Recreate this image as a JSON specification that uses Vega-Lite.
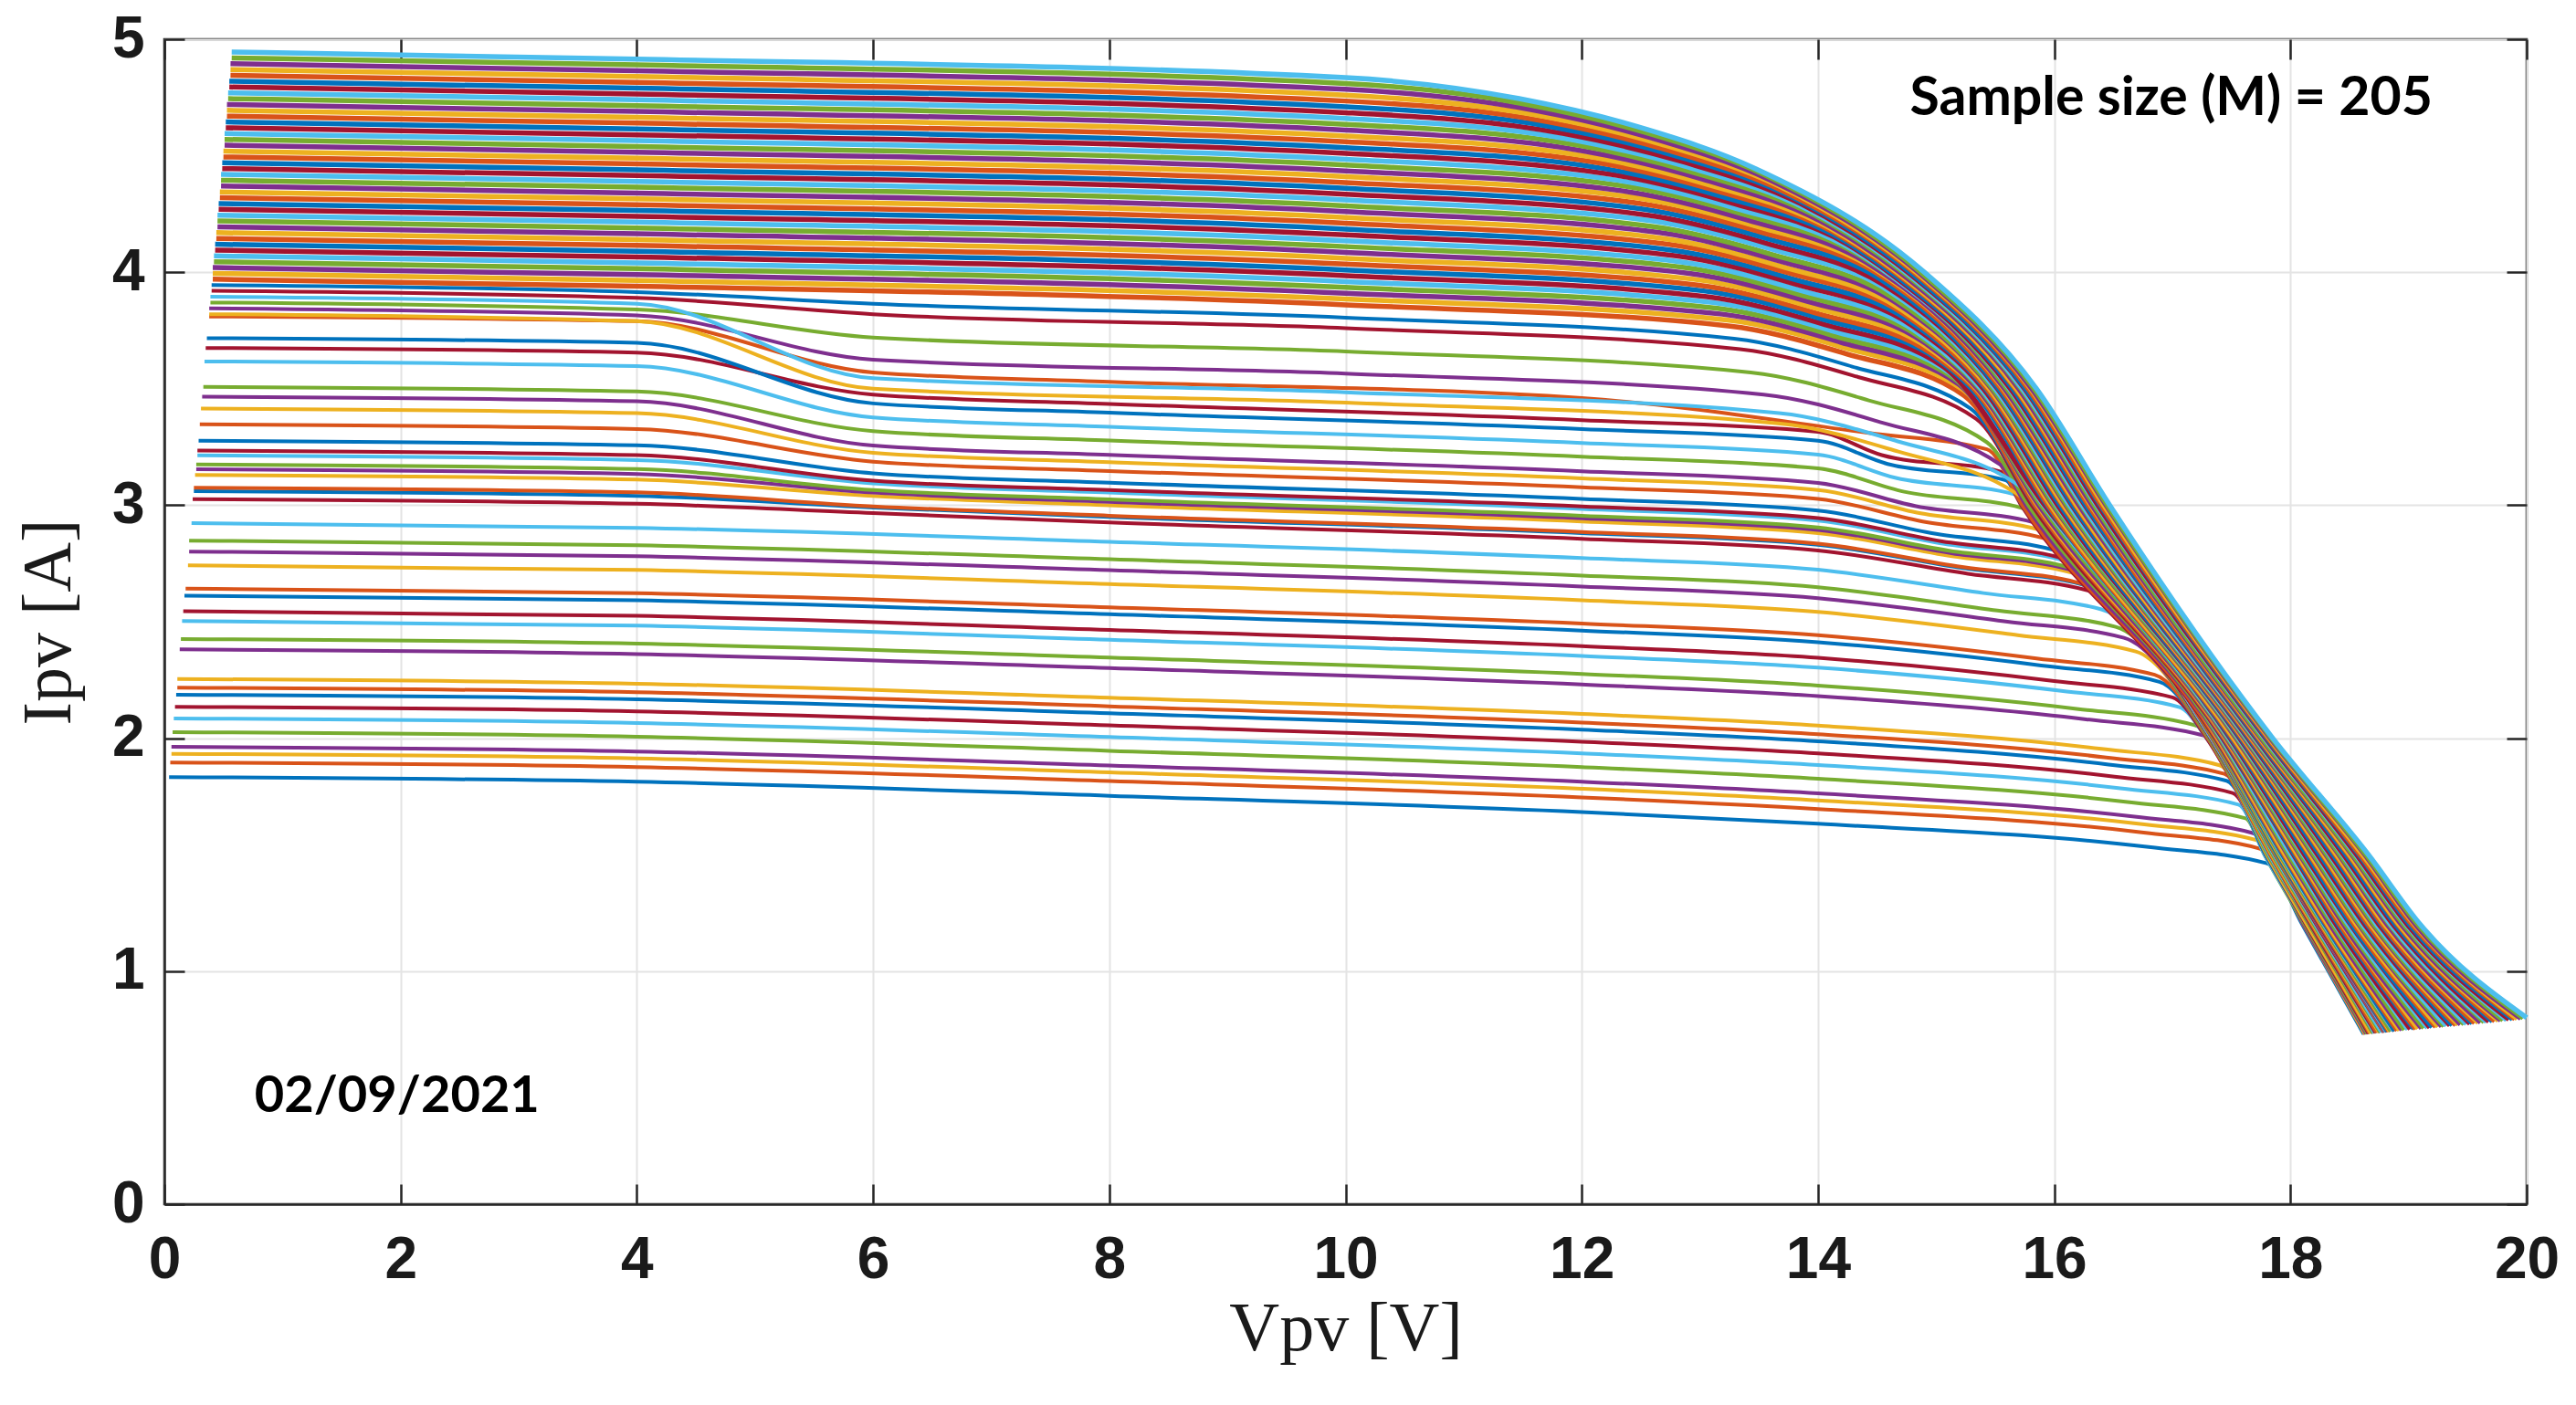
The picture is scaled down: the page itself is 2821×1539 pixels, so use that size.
{
"$schema":"https://vega.github.io/schema/vega-lite/v6.json",
"width":2587,"height":1276,
"autosize":{"type":"none"},
"padding":{"left":180,"top":43,"right":54,"bottom":220},
"background":"white",
"config":{"view":{"stroke":"#262626","strokeWidth":2.5}},
"resolve":{"axis":{"x":"independent","y":"independent"}},
"data":{"values":[
{"c":"c01","v":0.04,"i":1.833},{"c":"c01","v":4,"i":1.813},{"c":"c01","v":8,"i":1.753},{"c":"c01","v":12,"i":1.683},{"c":"c01","v":14,"i":1.633},{"c":"c01","v":16.8,"i":1.533},{"c":"c01","v":17.8,"i":1.463},{"c":"c01","v":18.1,"i":1.2},{"c":"c01","v":18.62,"i":0.73},
{"c":"c02","v":0.05,"i":1.896},{"c":"c02","v":4,"i":1.876},{"c":"c02","v":8,"i":1.816},{"c":"c02","v":12,"i":1.746},{"c":"c02","v":14,"i":1.696},{"c":"c02","v":16.74,"i":1.596},{"c":"c02","v":17.74,"i":1.526},{"c":"c02","v":18.11,"i":1.2},{"c":"c02","v":18.63,"i":0.73},
{"c":"c03","v":0.06,"i":1.933},{"c":"c03","v":4,"i":1.913},{"c":"c03","v":8,"i":1.853},{"c":"c03","v":12,"i":1.783},{"c":"c03","v":14,"i":1.733},{"c":"c03","v":16.71,"i":1.633},{"c":"c03","v":17.71,"i":1.563},{"c":"c03","v":18.11,"i":1.2},{"c":"c03","v":18.63,"i":0.731},
{"c":"c04","v":0.06,"i":1.963},{"c":"c04","v":4,"i":1.943},{"c":"c04","v":8,"i":1.883},{"c":"c04","v":12,"i":1.813},{"c":"c04","v":14,"i":1.763},{"c":"c04","v":16.68,"i":1.663},{"c":"c04","v":17.68,"i":1.593},{"c":"c04","v":18.11,"i":1.2},{"c":"c04","v":18.64,"i":0.731},
{"c":"c05","v":0.07,"i":2.026},{"c":"c05","v":4,"i":2.006},{"c":"c05","v":8,"i":1.946},{"c":"c05","v":12,"i":1.876},{"c":"c05","v":14,"i":1.826},{"c":"c05","v":16.62,"i":1.726},{"c":"c05","v":17.62,"i":1.656},{"c":"c05","v":17.78,"i":1.5},{"c":"c05","v":18.12,"i":1.2},{"c":"c05","v":18.65,"i":0.731},
{"c":"c06","v":0.08,"i":2.085},{"c":"c06","v":4,"i":2.065},{"c":"c06","v":8,"i":2.005},{"c":"c06","v":12,"i":1.935},{"c":"c06","v":14,"i":1.885},{"c":"c06","v":16.56,"i":1.785},{"c":"c06","v":17.56,"i":1.715},{"c":"c06","v":17.78,"i":1.5},{"c":"c06","v":18.13,"i":1.2},{"c":"c06","v":18.66,"i":0.732},
{"c":"c07","v":0.09,"i":2.135},{"c":"c07","v":4,"i":2.115},{"c":"c07","v":8,"i":2.055},{"c":"c07","v":12,"i":1.985},{"c":"c07","v":14,"i":1.935},{"c":"c07","v":16.51,"i":1.835},{"c":"c07","v":17.51,"i":1.765},{"c":"c07","v":17.79,"i":1.5},{"c":"c07","v":18.13,"i":1.2},{"c":"c07","v":18.66,"i":0.732},
{"c":"c08","v":0.1,"i":2.187},{"c":"c08","v":4,"i":2.167},{"c":"c08","v":8,"i":2.107},{"c":"c08","v":12,"i":2.037},{"c":"c08","v":14,"i":1.987},{"c":"c08","v":16.46,"i":1.887},{"c":"c08","v":17.46,"i":1.817},{"c":"c08","v":17.79,"i":1.5},{"c":"c08","v":18.14,"i":1.2},{"c":"c08","v":18.67,"i":0.733},
{"c":"c09","v":0.11,"i":2.217},{"c":"c09","v":4,"i":2.197},{"c":"c09","v":8,"i":2.137},{"c":"c09","v":12,"i":2.067},{"c":"c09","v":14,"i":2.017},{"c":"c09","v":16.44,"i":1.917},{"c":"c09","v":17.44,"i":1.847},{"c":"c09","v":17.8,"i":1.5},{"c":"c09","v":18.14,"i":1.2},{"c":"c09","v":18.67,"i":0.733},
{"c":"c10","v":0.11,"i":2.254},{"c":"c10","v":4,"i":2.234},{"c":"c10","v":8,"i":2.174},{"c":"c10","v":12,"i":2.104},{"c":"c10","v":14,"i":2.054},{"c":"c10","v":16.4,"i":1.954},{"c":"c10","v":17.4,"i":1.884},{"c":"c10","v":17.8,"i":1.5},{"c":"c10","v":18.14,"i":1.2},{"c":"c10","v":18.68,"i":0.733},
{"c":"c11","v":0.13,"i":2.381},{"c":"c11","v":4,"i":2.361},{"c":"c11","v":8,"i":2.301},{"c":"c11","v":12,"i":2.231},{"c":"c11","v":14,"i":2.181},{"c":"c11","v":16.27,"i":2.081},{"c":"c11","v":17.27,"i":2.011},{"c":"c11","v":17.81,"i":1.5},{"c":"c11","v":18.16,"i":1.2},{"c":"c11","v":18.7,"i":0.734},
{"c":"c12","v":0.14,"i":2.426},{"c":"c12","v":4,"i":2.406},{"c":"c12","v":8,"i":2.346},{"c":"c12","v":12,"i":2.276},{"c":"c12","v":14,"i":2.226},{"c":"c12","v":16.19,"i":2.126},{"c":"c12","v":17.19,"i":2.056},{"c":"c12","v":17.81,"i":1.5},{"c":"c12","v":18.16,"i":1.2},{"c":"c12","v":18.7,"i":0.734},
{"c":"c13","v":0.15,"i":2.503},{"c":"c13","v":4,"i":2.483},{"c":"c13","v":8,"i":2.423},{"c":"c13","v":12,"i":2.353},{"c":"c13","v":14,"i":2.303},{"c":"c13","v":16.06,"i":2.203},{"c":"c13","v":17.06,"i":2.133},{"c":"c13","v":17.29,"i":2.0},{"c":"c13","v":17.82,"i":1.5},{"c":"c13","v":18.17,"i":1.2},{"c":"c13","v":18.71,"i":0.735},
{"c":"c14","v":0.16,"i":2.545},{"c":"c14","v":4,"i":2.525},{"c":"c14","v":8,"i":2.465},{"c":"c14","v":12,"i":2.395},{"c":"c14","v":14,"i":2.345},{"c":"c14","v":16.0,"i":2.245},{"c":"c14","v":17.0,"i":2.175},{"c":"c14","v":17.29,"i":2.0},{"c":"c14","v":17.83,"i":1.5},{"c":"c14","v":18.17,"i":1.2},{"c":"c14","v":18.72,"i":0.735},
{"c":"c15","v":0.17,"i":2.612},{"c":"c15","v":4,"i":2.592},{"c":"c15","v":8,"i":2.532},{"c":"c15","v":12,"i":2.462},{"c":"c15","v":14,"i":2.412},{"c":"c15","v":15.89,"i":2.312},{"c":"c15","v":16.89,"i":2.242},{"c":"c15","v":17.3,"i":2.0},{"c":"c15","v":17.83,"i":1.5},{"c":"c15","v":18.18,"i":1.2},{"c":"c15","v":18.73,"i":0.736},
{"c":"c16","v":0.18,"i":2.642},{"c":"c16","v":4,"i":2.622},{"c":"c16","v":8,"i":2.562},{"c":"c16","v":12,"i":2.492},{"c":"c16","v":14,"i":2.442},{"c":"c16","v":15.85,"i":2.342},{"c":"c16","v":16.85,"i":2.272},{"c":"c16","v":17.3,"i":2.0},{"c":"c16","v":17.83,"i":1.5},{"c":"c16","v":18.18,"i":1.2},{"c":"c16","v":18.73,"i":0.736},
{"c":"c17","v":0.2,"i":2.742},{"c":"c17","v":4,"i":2.722},{"c":"c17","v":8,"i":2.662},{"c":"c17","v":12,"i":2.592},{"c":"c17","v":14,"i":2.542},{"c":"c17","v":15.69,"i":2.442},{"c":"c17","v":16.69,"i":2.372},{"c":"c17","v":17.31,"i":2.0},{"c":"c17","v":17.84,"i":1.5},{"c":"c17","v":18.19,"i":1.2},{"c":"c17","v":18.75,"i":0.737},
{"c":"c18","v":0.21,"i":2.801},{"c":"c18","v":4,"i":2.781},{"c":"c18","v":8,"i":2.721},{"c":"c18","v":12,"i":2.651},{"c":"c18","v":14,"i":2.601},{"c":"c18","v":15.59,"i":2.501},{"c":"c18","v":16.59,"i":2.431},{"c":"c18","v":17.31,"i":2.0},{"c":"c18","v":17.85,"i":1.5},{"c":"c18","v":18.2,"i":1.2},{"c":"c18","v":18.76,"i":0.737},
{"c":"c19","v":0.21,"i":2.848},{"c":"c19","v":4,"i":2.828},{"c":"c19","v":8,"i":2.768},{"c":"c19","v":12,"i":2.698},{"c":"c19","v":14,"i":2.648},{"c":"c19","v":15.52,"i":2.548},{"c":"c19","v":16.52,"i":2.478},{"c":"c19","v":17.31,"i":2.0},{"c":"c19","v":17.85,"i":1.5},{"c":"c19","v":18.2,"i":1.2},{"c":"c19","v":18.76,"i":0.737},
{"c":"c20","v":0.23,"i":2.923},{"c":"c20","v":4,"i":2.903},{"c":"c20","v":8,"i":2.843},{"c":"c20","v":12,"i":2.773},{"c":"c20","v":14,"i":2.723},{"c":"c20","v":15.4,"i":2.623},{"c":"c20","v":16.4,"i":2.553},{"c":"c20","v":17.32,"i":2.0},{"c":"c20","v":17.86,"i":1.5},{"c":"c20","v":18.21,"i":1.2},{"c":"c20","v":18.77,"i":0.738},
{"c":"c21","v":0.24,"i":3.026},{"c":"c21","v":4,"i":3.006},{"c":"c21","v":6,"i":2.966},{"c":"c21","v":8,"i":2.926},{"c":"c21","v":12,"i":2.856},{"c":"c21","v":14,"i":2.806},{"c":"c21","v":15.27,"i":2.706},{"c":"c21","v":16.27,"i":2.636},{"c":"c21","v":17.32,"i":2.0},{"c":"c21","v":17.87,"i":1.5},{"c":"c21","v":18.22,"i":1.2},{"c":"c21","v":18.79,"i":0.738},
{"c":"c22","v":0.25,"i":3.06},{"c":"c22","v":4,"i":3.04},{"c":"c22","v":6,"i":2.99},{"c":"c22","v":8,"i":2.95},{"c":"c22","v":12,"i":2.88},{"c":"c22","v":14,"i":2.83},{"c":"c22","v":15.23,"i":2.73},{"c":"c22","v":16.23,"i":2.66},{"c":"c22","v":17.33,"i":2.0},{"c":"c22","v":17.87,"i":1.5},{"c":"c22","v":18.23,"i":1.2},{"c":"c22","v":18.79,"i":0.739},
{"c":"c23","v":0.25,"i":3.075},{"c":"c23","v":4,"i":3.055},{"c":"c23","v":6,"i":2.995},{"c":"c23","v":8,"i":2.955},{"c":"c23","v":12,"i":2.885},{"c":"c23","v":14,"i":2.835},{"c":"c23","v":15.22,"i":2.735},{"c":"c23","v":16.22,"i":2.665},{"c":"c23","v":17.33,"i":2.0},{"c":"c23","v":17.87,"i":1.5},{"c":"c23","v":18.23,"i":1.2},{"c":"c23","v":18.79,"i":0.739},
{"c":"c24","v":0.26,"i":3.13},{"c":"c24","v":4,"i":3.11},{"c":"c24","v":6,"i":3.04},{"c":"c24","v":8,"i":3.0},{"c":"c24","v":12,"i":2.93},{"c":"c24","v":14,"i":2.88},{"c":"c24","v":15.15,"i":2.78},{"c":"c24","v":16.15,"i":2.71},{"c":"c24","v":17.33,"i":2.0},{"c":"c24","v":17.88,"i":1.5},{"c":"c24","v":18.23,"i":1.2},{"c":"c24","v":18.8,"i":0.739},
{"c":"c25","v":0.27,"i":3.154},{"c":"c25","v":4,"i":3.134},{"c":"c25","v":6,"i":3.054},{"c":"c25","v":8,"i":3.014},{"c":"c25","v":12,"i":2.944},{"c":"c25","v":14,"i":2.894},{"c":"c25","v":15.13,"i":2.794},{"c":"c25","v":16.13,"i":2.724},{"c":"c25","v":17.33,"i":2.0},{"c":"c25","v":17.88,"i":1.5},{"c":"c25","v":18.23,"i":1.2},{"c":"c25","v":18.8,"i":0.739},
{"c":"c26","v":0.27,"i":3.175},{"c":"c26","v":4,"i":3.155},{"c":"c26","v":6,"i":3.065},{"c":"c26","v":8,"i":3.025},{"c":"c26","v":12,"i":2.955},{"c":"c26","v":14,"i":2.905},{"c":"c26","v":15.11,"i":2.805},{"c":"c26","v":16.11,"i":2.735},{"c":"c26","v":17.33,"i":2.0},{"c":"c26","v":17.88,"i":1.5},{"c":"c26","v":18.24,"i":1.2},{"c":"c26","v":18.81,"i":0.74},
{"c":"c27","v":0.28,"i":3.214},{"c":"c27","v":4,"i":3.194},{"c":"c27","v":6,"i":3.094},{"c":"c27","v":8,"i":3.054},{"c":"c27","v":12,"i":2.984},{"c":"c27","v":14,"i":2.934},{"c":"c27","v":15.07,"i":2.834},{"c":"c27","v":16.07,"i":2.764},{"c":"c27","v":17.33,"i":2.0},{"c":"c27","v":17.89,"i":1.5},{"c":"c27","v":18.24,"i":1.2},{"c":"c27","v":18.81,"i":0.74},
{"c":"c28","v":0.28,"i":3.235},{"c":"c28","v":4,"i":3.215},{"c":"c28","v":6,"i":3.105},{"c":"c28","v":8,"i":3.065},{"c":"c28","v":12,"i":2.995},{"c":"c28","v":14,"i":2.945},{"c":"c28","v":15.05,"i":2.845},{"c":"c28","v":16.05,"i":2.775},{"c":"c28","v":17.34,"i":2.0},{"c":"c28","v":17.89,"i":1.5},{"c":"c28","v":18.24,"i":1.2},{"c":"c28","v":18.82,"i":0.74},
{"c":"c29","v":0.29,"i":3.277},{"c":"c29","v":4,"i":3.257},{"c":"c29","v":6,"i":3.137},{"c":"c29","v":8,"i":3.097},{"c":"c29","v":12,"i":3.027},{"c":"c29","v":14,"i":2.977},{"c":"c29","v":15.0,"i":2.877},{"c":"c29","v":16.0,"i":2.807},{"c":"c29","v":17.34,"i":2.0},{"c":"c29","v":17.89,"i":1.5},{"c":"c29","v":18.25,"i":1.2},{"c":"c29","v":18.82,"i":0.74},
{"c":"c30","v":0.3,"i":3.347},{"c":"c30","v":4,"i":3.327},{"c":"c30","v":6,"i":3.187},{"c":"c30","v":8,"i":3.147},{"c":"c30","v":12,"i":3.077},{"c":"c30","v":14,"i":3.027},{"c":"c30","v":14.92,"i":2.927},{"c":"c30","v":15.92,"i":2.857},{"c":"c30","v":17.34,"i":2.0},{"c":"c30","v":17.9,"i":1.5},{"c":"c30","v":18.25,"i":1.2},{"c":"c30","v":18.83,"i":0.741},
{"c":"c31","v":0.31,"i":3.415},{"c":"c31","v":4,"i":3.395},{"c":"c31","v":6,"i":3.225},{"c":"c31","v":8,"i":3.185},{"c":"c31","v":12,"i":3.115},{"c":"c31","v":14,"i":3.065},{"c":"c31","v":14.87,"i":2.965},{"c":"c31","v":15.87,"i":2.895},{"c":"c31","v":17.35,"i":2.0},{"c":"c31","v":17.9,"i":1.5},{"c":"c31","v":18.26,"i":1.2},{"c":"c31","v":18.84,"i":0.741},
{"c":"c32","v":0.32,"i":3.466},{"c":"c32","v":4,"i":3.446},{"c":"c32","v":6,"i":3.256},{"c":"c32","v":8,"i":3.216},{"c":"c32","v":12,"i":3.146},{"c":"c32","v":14,"i":3.096},{"c":"c32","v":14.83,"i":2.996},{"c":"c32","v":15.83,"i":2.926},{"c":"c32","v":17.35,"i":2.0},{"c":"c32","v":17.91,"i":1.5},{"c":"c32","v":18.27,"i":1.2},{"c":"c32","v":18.85,"i":0.742},
{"c":"c33","v":0.33,"i":3.508},{"c":"c33","v":4,"i":3.488},{"c":"c33","v":6,"i":3.318},{"c":"c33","v":8,"i":3.278},{"c":"c33","v":12,"i":3.208},{"c":"c33","v":14,"i":3.158},{"c":"c33","v":14.73,"i":3.058},{"c":"c33","v":15.73,"i":2.988},{"c":"c33","v":17.35,"i":2.0},{"c":"c33","v":17.91,"i":1.5},{"c":"c33","v":18.27,"i":1.2},{"c":"c33","v":18.85,"i":0.742},
{"c":"c34","v":0.34,"i":3.617},{"c":"c34","v":4,"i":3.597},{"c":"c34","v":6,"i":3.377},{"c":"c34","v":8,"i":3.337},{"c":"c34","v":12,"i":3.267},{"c":"c34","v":14,"i":3.217},{"c":"c34","v":14.66,"i":3.117},{"c":"c34","v":15.66,"i":3.047},{"c":"c34","v":17.36,"i":2.0},{"c":"c34","v":17.92,"i":1.5},{"c":"c34","v":18.28,"i":1.2},{"c":"c34","v":18.87,"i":0.743},
{"c":"c35","v":0.35,"i":3.675},{"c":"c35","v":4,"i":3.655},{"c":"c35","v":6,"i":3.475},{"c":"c35","v":8,"i":3.435},{"c":"c35","v":12,"i":3.365},{"c":"c35","v":14,"i":3.315},{"c":"c35","v":14.54,"i":3.215},{"c":"c35","v":15.54,"i":3.145},{"c":"c35","v":15.72,"i":3.0},{"c":"c35","v":17.36,"i":2.0},{"c":"c35","v":17.93,"i":1.5},{"c":"c35","v":18.29,"i":1.2},{"c":"c35","v":18.88,"i":0.743},
{"c":"c36","v":0.36,"i":3.717},{"c":"c36","v":4,"i":3.697},{"c":"c36","v":6,"i":3.437},{"c":"c36","v":8,"i":3.397},{"c":"c36","v":12,"i":3.327},{"c":"c36","v":14,"i":3.277},{"c":"c36","v":14.59,"i":3.177},{"c":"c36","v":15.59,"i":3.107},{"c":"c36","v":15.73,"i":3.0},{"c":"c36","v":17.37,"i":2.0},{"c":"c36","v":17.93,"i":1.5},{"c":"c36","v":18.29,"i":1.2},{"c":"c36","v":18.88,"i":0.743},
{"c":"c37","v":0.38,"i":3.81},{"c":"c37","v":4,"i":3.79},{"c":"c37","v":6,"i":3.57},{"c":"c37","v":8,"i":3.53},{"c":"c37","v":12,"i":3.46},{"c":"c37","v":14.43,"i":3.31},{"c":"c37","v":15.43,"i":3.24},{"c":"c37","v":15.73,"i":3.0},{"c":"c37","v":17.37,"i":2.0},{"c":"c37","v":17.94,"i":1.5},{"c":"c37","v":18.3,"i":1.2},{"c":"c37","v":18.9,"i":0.744},
{"c":"c38","v":0.38,"i":3.82},{"c":"c38","v":4,"i":3.79},{"c":"c38","v":6,"i":3.5},{"c":"c38","v":10,"i":3.44},{"c":"c38","v":13.68,"i":3.35},{"c":"c38","v":14.68,"i":3.23},{"c":"c38","v":15.68,"i":3.05},{"c":"c38","v":17.38,"i":2.0},{"c":"c38","v":17.95,"i":1.5},{"c":"c38","v":18.31,"i":1.2},{"c":"c38","v":18.92,"i":0.745},
{"c":"c39","v":0.38,"i":3.845},{"c":"c39","v":4,"i":3.815},{"c":"c39","v":6,"i":3.625},{"c":"c39","v":10,"i":3.565},{"c":"c39","v":13.54,"i":3.475},{"c":"c39","v":14.54,"i":3.355},{"c":"c39","v":15.54,"i":3.175},{"c":"c39","v":15.76,"i":3.0},{"c":"c39","v":17.39,"i":2.0},{"c":"c39","v":17.97,"i":1.5},{"c":"c39","v":18.33,"i":1.2},{"c":"c39","v":18.94,"i":0.746},
{"c":"c40","v":0.39,"i":3.87},{"c":"c40","v":4,"i":3.84},{"c":"c40","v":6,"i":3.72},{"c":"c40","v":10,"i":3.66},{"c":"c40","v":13.43,"i":3.57},{"c":"c40","v":14.43,"i":3.45},{"c":"c40","v":15.43,"i":3.27},{"c":"c40","v":15.78,"i":3.0},{"c":"c40","v":17.4,"i":2.0},{"c":"c40","v":17.98,"i":1.5},{"c":"c40","v":18.35,"i":1.2},{"c":"c40","v":18.96,"i":0.747},
{"c":"c41","v":0.39,"i":3.895},{"c":"c41","v":4,"i":3.865},{"c":"c41","v":6,"i":3.545},{"c":"c41","v":10,"i":3.485},{"c":"c41","v":13.67,"i":3.395},{"c":"c41","v":14.67,"i":3.275},{"c":"c41","v":15.67,"i":3.095},{"c":"c41","v":17.41,"i":2.0},{"c":"c41","v":18.0,"i":1.5},{"c":"c41","v":18.37,"i":1.2},{"c":"c41","v":18.99,"i":0.749},
{"c":"c42","v":0.4,"i":3.92},{"c":"c42","v":4,"i":3.89},{"c":"c42","v":6,"i":3.82},{"c":"c42","v":10,"i":3.76},{"c":"c42","v":13.34,"i":3.67},{"c":"c42","v":14.34,"i":3.55},{"c":"c42","v":15.34,"i":3.37},{"c":"c42","v":15.81,"i":3.0},{"c":"c42","v":17.42,"i":2.0},{"c":"c42","v":18.02,"i":1.5},{"c":"c42","v":18.38,"i":1.2},{"c":"c42","v":19.01,"i":0.75},
{"c":"c43","v":0.4,"i":3.945},{"c":"c43","v":4,"i":3.915},{"c":"c43","v":6,"i":3.865},{"c":"c43","v":10,"i":3.805},{"c":"c43","v":13.29,"i":3.715},{"c":"c43","v":14.29,"i":3.595},{"c":"c43","v":15.29,"i":3.415},{"c":"c43","v":15.83,"i":3.0},{"c":"c43","v":17.43,"i":2.0},{"c":"c43","v":18.03,"i":1.5},{"c":"c43","v":18.4,"i":1.2},{"c":"c43","v":19.04,"i":0.751},
{"c":"c44","v":0.41,"i":3.97},{"c":"c44","v":4,"i":3.94},{"c":"c44","v":10,"i":3.86},{"c":"c44","v":13.24,"i":3.77},{"c":"c44","v":14.24,"i":3.65},{"c":"c44","v":15.24,"i":3.47},{"c":"c44","v":15.84,"i":3.0},{"c":"c44","v":17.44,"i":2.0},{"c":"c44","v":18.05,"i":1.5},{"c":"c44","v":18.42,"i":1.2},{"c":"c44","v":19.06,"i":0.752},
{"c":"c45","v":0.41,"i":3.995},{"c":"c45","v":4,"i":3.965},{"c":"c45","v":10,"i":3.885},{"c":"c45","v":13.23,"i":3.795},{"c":"c45","v":14.23,"i":3.675},{"c":"c45","v":15.23,"i":3.495},{"c":"c45","v":15.86,"i":3.0},{"c":"c45","v":17.45,"i":2.0},{"c":"c45","v":18.06,"i":1.5},{"c":"c45","v":18.44,"i":1.2},{"c":"c45","v":19.08,"i":0.754},
{"c":"c46","v":0.41,"i":4.02},{"c":"c46","v":4,"i":3.99},{"c":"c46","v":10,"i":3.91},{"c":"c46","v":13.19,"i":3.82},{"c":"c46","v":14.19,"i":3.7},{"c":"c46","v":15.19,"i":3.52},{"c":"c46","v":15.87,"i":3.0},{"c":"c46","v":17.46,"i":2.0},{"c":"c46","v":18.08,"i":1.5},{"c":"c46","v":18.45,"i":1.2},{"c":"c46","v":19.11,"i":0.755},
{"c":"c47","v":0.42,"i":4.045},{"c":"c47","v":4,"i":4.015},{"c":"c47","v":10,"i":3.935},{"c":"c47","v":13.15,"i":3.845},{"c":"c47","v":14.15,"i":3.725},{"c":"c47","v":15.15,"i":3.545},{"c":"c47","v":15.89,"i":3.0},{"c":"c47","v":17.47,"i":2.0},{"c":"c47","v":18.09,"i":1.5},{"c":"c47","v":18.47,"i":1.2},{"c":"c47","v":19.13,"i":0.756},
{"c":"c48","v":0.42,"i":4.07},{"c":"c48","v":4,"i":4.04},{"c":"c48","v":10,"i":3.96},{"c":"c48","v":13.11,"i":3.87},{"c":"c48","v":14.11,"i":3.75},{"c":"c48","v":15.11,"i":3.57},{"c":"c48","v":15.91,"i":3.0},{"c":"c48","v":17.48,"i":2.0},{"c":"c48","v":18.11,"i":1.5},{"c":"c48","v":18.49,"i":1.2},{"c":"c48","v":19.16,"i":0.757},
{"c":"c49","v":0.43,"i":4.095},{"c":"c49","v":4,"i":4.065},{"c":"c49","v":10,"i":3.985},{"c":"c49","v":13.06,"i":3.895},{"c":"c49","v":14.06,"i":3.775},{"c":"c49","v":15.06,"i":3.595},{"c":"c49","v":15.92,"i":3.0},{"c":"c49","v":17.49,"i":2.0},{"c":"c49","v":18.12,"i":1.5},{"c":"c49","v":18.51,"i":1.2},{"c":"c49","v":19.18,"i":0.758},
{"c":"c50","v":0.43,"i":4.12},{"c":"c50","v":4,"i":4.09},{"c":"c50","v":10,"i":4.01},{"c":"c50","v":13.03,"i":3.92},{"c":"c50","v":14.03,"i":3.8},{"c":"c50","v":15.03,"i":3.62},{"c":"c50","v":15.3,"i":3.5},{"c":"c50","v":15.94,"i":3.0},{"c":"c50","v":17.5,"i":2.0},{"c":"c50","v":18.14,"i":1.5},{"c":"c50","v":18.52,"i":1.2},{"c":"c50","v":19.2,"i":0.76},
{"c":"c51","v":0.44,"i":4.145},{"c":"c51","v":4,"i":4.115},{"c":"c51","v":10,"i":4.035},{"c":"c51","v":12.98,"i":3.945},{"c":"c51","v":13.98,"i":3.825},{"c":"c51","v":14.98,"i":3.645},{"c":"c51","v":15.32,"i":3.5},{"c":"c51","v":15.95,"i":3.0},{"c":"c51","v":17.51,"i":2.0},{"c":"c51","v":18.16,"i":1.5},{"c":"c51","v":18.54,"i":1.2},{"c":"c51","v":19.23,"i":0.761},
{"c":"c52","v":0.44,"i":4.17},{"c":"c52","v":4,"i":4.14},{"c":"c52","v":10,"i":4.06},{"c":"c52","v":12.95,"i":3.97},{"c":"c52","v":13.95,"i":3.85},{"c":"c52","v":14.95,"i":3.67},{"c":"c52","v":15.34,"i":3.5},{"c":"c52","v":15.97,"i":3.0},{"c":"c52","v":17.52,"i":2.0},{"c":"c52","v":18.17,"i":1.5},{"c":"c52","v":18.56,"i":1.2},{"c":"c52","v":19.25,"i":0.762},
{"c":"c53","v":0.45,"i":4.195},{"c":"c53","v":4,"i":4.165},{"c":"c53","v":10,"i":4.085},{"c":"c53","v":12.91,"i":3.995},{"c":"c53","v":13.91,"i":3.875},{"c":"c53","v":14.91,"i":3.695},{"c":"c53","v":15.35,"i":3.5},{"c":"c53","v":15.99,"i":3.0},{"c":"c53","v":17.54,"i":2.0},{"c":"c53","v":18.19,"i":1.5},{"c":"c53","v":18.58,"i":1.2},{"c":"c53","v":19.28,"i":0.763},
{"c":"c54","v":0.45,"i":4.22},{"c":"c54","v":4,"i":4.19},{"c":"c54","v":10,"i":4.11},{"c":"c54","v":12.87,"i":4.02},{"c":"c54","v":13.87,"i":3.9},{"c":"c54","v":14.87,"i":3.72},{"c":"c54","v":15.37,"i":3.5},{"c":"c54","v":16.0,"i":3.0},{"c":"c54","v":17.55,"i":2.0},{"c":"c54","v":18.2,"i":1.5},{"c":"c54","v":18.59,"i":1.2},{"c":"c54","v":19.3,"i":0.764},
{"c":"c55","v":0.45,"i":4.245},{"c":"c55","v":4,"i":4.215},{"c":"c55","v":10,"i":4.135},{"c":"c55","v":12.83,"i":4.045},{"c":"c55","v":13.83,"i":3.925},{"c":"c55","v":14.83,"i":3.745},{"c":"c55","v":15.38,"i":3.5},{"c":"c55","v":16.02,"i":3.0},{"c":"c55","v":17.56,"i":2.0},{"c":"c55","v":18.22,"i":1.5},{"c":"c55","v":18.61,"i":1.2},{"c":"c55","v":19.32,"i":0.766},
{"c":"c56","v":0.46,"i":4.27},{"c":"c56","v":4,"i":4.24},{"c":"c56","v":10,"i":4.16},{"c":"c56","v":12.8,"i":4.07},{"c":"c56","v":13.8,"i":3.95},{"c":"c56","v":14.8,"i":3.77},{"c":"c56","v":15.4,"i":3.5},{"c":"c56","v":16.03,"i":3.0},{"c":"c56","v":17.57,"i":2.0},{"c":"c56","v":18.23,"i":1.5},{"c":"c56","v":18.63,"i":1.2},{"c":"c56","v":19.35,"i":0.767},
{"c":"c57","v":0.46,"i":4.295},{"c":"c57","v":4,"i":4.265},{"c":"c57","v":10,"i":4.185},{"c":"c57","v":12.76,"i":4.095},{"c":"c57","v":13.76,"i":3.975},{"c":"c57","v":14.76,"i":3.795},{"c":"c57","v":15.42,"i":3.5},{"c":"c57","v":16.05,"i":3.0},{"c":"c57","v":17.58,"i":2.0},{"c":"c57","v":18.25,"i":1.5},{"c":"c57","v":18.65,"i":1.2},{"c":"c57","v":19.37,"i":0.768},
{"c":"c58","v":0.47,"i":4.32},{"c":"c58","v":4,"i":4.29},{"c":"c58","v":10,"i":4.21},{"c":"c58","v":12.73,"i":4.12},{"c":"c58","v":13.73,"i":4.0},{"c":"c58","v":14.73,"i":3.82},{"c":"c58","v":15.43,"i":3.5},{"c":"c58","v":16.07,"i":3.0},{"c":"c58","v":17.59,"i":2.0},{"c":"c58","v":18.27,"i":1.5},{"c":"c58","v":18.66,"i":1.2},{"c":"c58","v":19.4,"i":0.769},
{"c":"c59","v":0.47,"i":4.345},{"c":"c59","v":4,"i":4.315},{"c":"c59","v":10,"i":4.235},{"c":"c59","v":12.69,"i":4.145},{"c":"c59","v":13.69,"i":4.025},{"c":"c59","v":14.69,"i":3.845},{"c":"c59","v":15.45,"i":3.5},{"c":"c59","v":16.08,"i":3.0},{"c":"c59","v":17.6,"i":2.0},{"c":"c59","v":18.28,"i":1.5},{"c":"c59","v":18.68,"i":1.2},{"c":"c59","v":19.42,"i":0.771},
{"c":"c60","v":0.48,"i":4.37},{"c":"c60","v":4,"i":4.34},{"c":"c60","v":10,"i":4.26},{"c":"c60","v":12.66,"i":4.17},{"c":"c60","v":13.66,"i":4.05},{"c":"c60","v":14.66,"i":3.87},{"c":"c60","v":15.47,"i":3.5},{"c":"c60","v":16.1,"i":3.0},{"c":"c60","v":17.61,"i":2.0},{"c":"c60","v":18.3,"i":1.5},{"c":"c60","v":18.7,"i":1.2},{"c":"c60","v":19.44,"i":0.772},
{"c":"c61","v":0.48,"i":4.395},{"c":"c61","v":4,"i":4.365},{"c":"c61","v":10,"i":4.285},{"c":"c61","v":12.62,"i":4.195},{"c":"c61","v":13.62,"i":4.075},{"c":"c61","v":14.62,"i":3.895},{"c":"c61","v":15.48,"i":3.5},{"c":"c61","v":16.11,"i":3.0},{"c":"c61","v":17.62,"i":2.0},{"c":"c61","v":18.31,"i":1.5},{"c":"c61","v":18.71,"i":1.2},{"c":"c61","v":19.47,"i":0.773},
{"c":"c62","v":0.48,"i":4.42},{"c":"c62","v":4,"i":4.39},{"c":"c62","v":10,"i":4.31},{"c":"c62","v":12.6,"i":4.22},{"c":"c62","v":13.6,"i":4.1},{"c":"c62","v":14.6,"i":3.92},{"c":"c62","v":15.5,"i":3.5},{"c":"c62","v":16.13,"i":3.0},{"c":"c62","v":17.63,"i":2.0},{"c":"c62","v":18.33,"i":1.5},{"c":"c62","v":18.73,"i":1.2},{"c":"c62","v":19.49,"i":0.774},
{"c":"c63","v":0.49,"i":4.445},{"c":"c63","v":4,"i":4.415},{"c":"c63","v":10,"i":4.335},{"c":"c63","v":12.56,"i":4.245},{"c":"c63","v":13.56,"i":4.125},{"c":"c63","v":14.56,"i":3.945},{"c":"c63","v":15.52,"i":3.5},{"c":"c63","v":16.15,"i":3.0},{"c":"c63","v":17.64,"i":2.0},{"c":"c63","v":18.34,"i":1.5},{"c":"c63","v":18.75,"i":1.2},{"c":"c63","v":19.52,"i":0.775},
{"c":"c64","v":0.49,"i":4.47},{"c":"c64","v":4,"i":4.44},{"c":"c64","v":10,"i":4.36},{"c":"c64","v":12.53,"i":4.27},{"c":"c64","v":13.53,"i":4.15},{"c":"c64","v":14.53,"i":3.97},{"c":"c64","v":15.53,"i":3.5},{"c":"c64","v":16.16,"i":3.0},{"c":"c64","v":17.65,"i":2.0},{"c":"c64","v":18.36,"i":1.5},{"c":"c64","v":18.77,"i":1.2},{"c":"c64","v":19.54,"i":0.777},
{"c":"c65","v":0.5,"i":4.495},{"c":"c65","v":4,"i":4.465},{"c":"c65","v":10,"i":4.385},{"c":"c65","v":12.5,"i":4.295},{"c":"c65","v":13.5,"i":4.175},{"c":"c65","v":14.5,"i":3.995},{"c":"c65","v":15.55,"i":3.5},{"c":"c65","v":16.18,"i":3.0},{"c":"c65","v":17.66,"i":2.0},{"c":"c65","v":18.38,"i":1.5},{"c":"c65","v":18.78,"i":1.2},{"c":"c65","v":19.56,"i":0.778},
{"c":"c66","v":0.5,"i":4.52},{"c":"c66","v":4,"i":4.49},{"c":"c66","v":10,"i":4.41},{"c":"c66","v":12.46,"i":4.32},{"c":"c66","v":13.46,"i":4.2},{"c":"c66","v":14.46,"i":4.02},{"c":"c66","v":15.57,"i":3.5},{"c":"c66","v":16.19,"i":3.0},{"c":"c66","v":17.67,"i":2.0},{"c":"c66","v":18.39,"i":1.5},{"c":"c66","v":18.8,"i":1.2},{"c":"c66","v":19.59,"i":0.779},
{"c":"c67","v":0.51,"i":4.545},{"c":"c67","v":4,"i":4.515},{"c":"c67","v":10,"i":4.435},{"c":"c67","v":12.4,"i":4.345},{"c":"c67","v":13.4,"i":4.225},{"c":"c67","v":14.4,"i":4.045},{"c":"c67","v":15.58,"i":3.5},{"c":"c67","v":16.21,"i":3.0},{"c":"c67","v":17.68,"i":2.0},{"c":"c67","v":18.41,"i":1.5},{"c":"c67","v":18.82,"i":1.2},{"c":"c67","v":19.61,"i":0.78},
{"c":"c68","v":0.51,"i":4.57},{"c":"c68","v":4,"i":4.54},{"c":"c68","v":10,"i":4.46},{"c":"c68","v":12.36,"i":4.37},{"c":"c68","v":13.36,"i":4.25},{"c":"c68","v":14.36,"i":4.07},{"c":"c68","v":15.6,"i":3.5},{"c":"c68","v":16.23,"i":3.0},{"c":"c68","v":17.69,"i":2.0},{"c":"c68","v":18.42,"i":1.5},{"c":"c68","v":18.84,"i":1.2},{"c":"c68","v":19.64,"i":0.782},
{"c":"c69","v":0.51,"i":4.595},{"c":"c69","v":4,"i":4.565},{"c":"c69","v":10,"i":4.485},{"c":"c69","v":12.3,"i":4.395},{"c":"c69","v":13.3,"i":4.275},{"c":"c69","v":14.3,"i":4.095},{"c":"c69","v":14.58,"i":4.0},{"c":"c69","v":15.62,"i":3.5},{"c":"c69","v":16.24,"i":3.0},{"c":"c69","v":17.7,"i":2.0},{"c":"c69","v":18.44,"i":1.5},{"c":"c69","v":18.85,"i":1.2},{"c":"c69","v":19.66,"i":0.783},
{"c":"c70","v":0.52,"i":4.62},{"c":"c70","v":4,"i":4.59},{"c":"c70","v":10,"i":4.51},{"c":"c70","v":12.25,"i":4.42},{"c":"c70","v":13.25,"i":4.3},{"c":"c70","v":14.25,"i":4.12},{"c":"c70","v":14.6,"i":4.0},{"c":"c70","v":15.63,"i":3.5},{"c":"c70","v":16.26,"i":3.0},{"c":"c70","v":17.71,"i":2.0},{"c":"c70","v":18.45,"i":1.5},{"c":"c70","v":18.87,"i":1.2},{"c":"c70","v":19.68,"i":0.784},
{"c":"c71","v":0.52,"i":4.645},{"c":"c71","v":4,"i":4.615},{"c":"c71","v":10,"i":4.535},{"c":"c71","v":12.19,"i":4.445},{"c":"c71","v":13.19,"i":4.325},{"c":"c71","v":14.19,"i":4.145},{"c":"c71","v":14.62,"i":4.0},{"c":"c71","v":15.65,"i":3.5},{"c":"c71","v":16.27,"i":3.0},{"c":"c71","v":17.72,"i":2.0},{"c":"c71","v":18.47,"i":1.5},{"c":"c71","v":18.89,"i":1.2},{"c":"c71","v":19.71,"i":0.785},
{"c":"c72","v":0.53,"i":4.67},{"c":"c72","v":4,"i":4.64},{"c":"c72","v":10,"i":4.56},{"c":"c72","v":12.14,"i":4.47},{"c":"c72","v":13.14,"i":4.35},{"c":"c72","v":14.14,"i":4.17},{"c":"c72","v":14.65,"i":4.0},{"c":"c72","v":15.67,"i":3.5},{"c":"c72","v":16.29,"i":3.0},{"c":"c72","v":17.73,"i":2.0},{"c":"c72","v":18.49,"i":1.5},{"c":"c72","v":18.91,"i":1.2},{"c":"c72","v":19.73,"i":0.786},
{"c":"c73","v":0.53,"i":4.695},{"c":"c73","v":4,"i":4.665},{"c":"c73","v":10,"i":4.585},{"c":"c73","v":12.08,"i":4.495},{"c":"c73","v":13.08,"i":4.375},{"c":"c73","v":14.08,"i":4.195},{"c":"c73","v":14.67,"i":4.0},{"c":"c73","v":15.68,"i":3.5},{"c":"c73","v":16.31,"i":3.0},{"c":"c73","v":17.74,"i":2.0},{"c":"c73","v":18.5,"i":1.5},{"c":"c73","v":18.92,"i":1.2},{"c":"c73","v":19.76,"i":0.788},
{"c":"c74","v":0.53,"i":4.72},{"c":"c74","v":4,"i":4.69},{"c":"c74","v":10,"i":4.61},{"c":"c74","v":12.02,"i":4.52},{"c":"c74","v":13.02,"i":4.4},{"c":"c74","v":14.02,"i":4.22},{"c":"c74","v":14.69,"i":4.0},{"c":"c74","v":15.7,"i":3.5},{"c":"c74","v":16.32,"i":3.0},{"c":"c74","v":17.75,"i":2.0},{"c":"c74","v":18.52,"i":1.5},{"c":"c74","v":18.94,"i":1.2},{"c":"c74","v":19.78,"i":0.789},
{"c":"c75","v":0.54,"i":4.745},{"c":"c75","v":4,"i":4.715},{"c":"c75","v":10,"i":4.635},{"c":"c75","v":11.97,"i":4.545},{"c":"c75","v":12.97,"i":4.425},{"c":"c75","v":13.97,"i":4.245},{"c":"c75","v":14.72,"i":4.0},{"c":"c75","v":15.72,"i":3.5},{"c":"c75","v":16.34,"i":3.0},{"c":"c75","v":17.76,"i":2.0},{"c":"c75","v":18.53,"i":1.5},{"c":"c75","v":18.96,"i":1.2},{"c":"c75","v":19.8,"i":0.79},
{"c":"c76","v":0.54,"i":4.77},{"c":"c76","v":4,"i":4.74},{"c":"c76","v":10,"i":4.66},{"c":"c76","v":11.91,"i":4.57},{"c":"c76","v":12.91,"i":4.45},{"c":"c76","v":13.91,"i":4.27},{"c":"c76","v":14.74,"i":4.0},{"c":"c76","v":15.73,"i":3.5},{"c":"c76","v":16.36,"i":3.0},{"c":"c76","v":17.78,"i":2.0},{"c":"c76","v":18.55,"i":1.5},{"c":"c76","v":18.98,"i":1.2},{"c":"c76","v":19.83,"i":0.791},
{"c":"c77","v":0.55,"i":4.795},{"c":"c77","v":4,"i":4.765},{"c":"c77","v":10,"i":4.685},{"c":"c77","v":11.85,"i":4.595},{"c":"c77","v":12.85,"i":4.475},{"c":"c77","v":13.85,"i":4.295},{"c":"c77","v":14.76,"i":4.0},{"c":"c77","v":15.75,"i":3.5},{"c":"c77","v":16.37,"i":3.0},{"c":"c77","v":17.79,"i":2.0},{"c":"c77","v":18.56,"i":1.5},{"c":"c77","v":18.99,"i":1.2},{"c":"c77","v":19.85,"i":0.793},
{"c":"c78","v":0.55,"i":4.82},{"c":"c78","v":4,"i":4.79},{"c":"c78","v":10,"i":4.71},{"c":"c78","v":11.79,"i":4.62},{"c":"c78","v":12.79,"i":4.5},{"c":"c78","v":13.79,"i":4.32},{"c":"c78","v":14.78,"i":4.0},{"c":"c78","v":15.76,"i":3.5},{"c":"c78","v":16.39,"i":3.0},{"c":"c78","v":17.8,"i":2.0},{"c":"c78","v":18.58,"i":1.5},{"c":"c78","v":19.01,"i":1.2},{"c":"c78","v":19.88,"i":0.794},
{"c":"c79","v":0.56,"i":4.845},{"c":"c79","v":4,"i":4.815},{"c":"c79","v":10,"i":4.735},{"c":"c79","v":11.72,"i":4.645},{"c":"c79","v":12.72,"i":4.525},{"c":"c79","v":13.72,"i":4.345},{"c":"c79","v":14.81,"i":4.0},{"c":"c79","v":15.78,"i":3.5},{"c":"c79","v":16.4,"i":3.0},{"c":"c79","v":17.81,"i":2.0},{"c":"c79","v":18.59,"i":1.5},{"c":"c79","v":19.03,"i":1.2},{"c":"c79","v":19.9,"i":0.795},
{"c":"c80","v":0.56,"i":4.87},{"c":"c80","v":4,"i":4.84},{"c":"c80","v":10,"i":4.76},{"c":"c80","v":11.67,"i":4.67},{"c":"c80","v":12.67,"i":4.55},{"c":"c80","v":13.67,"i":4.37},{"c":"c80","v":14.83,"i":4.0},{"c":"c80","v":15.8,"i":3.5},{"c":"c80","v":16.42,"i":3.0},{"c":"c80","v":17.82,"i":2.0},{"c":"c80","v":18.61,"i":1.5},{"c":"c80","v":19.05,"i":1.2},{"c":"c80","v":19.92,"i":0.796},
{"c":"c81","v":0.56,"i":4.895},{"c":"c81","v":4,"i":4.865},{"c":"c81","v":10,"i":4.785},{"c":"c81","v":11.6,"i":4.695},{"c":"c81","v":12.6,"i":4.575},{"c":"c81","v":13.6,"i":4.395},{"c":"c81","v":14.85,"i":4.0},{"c":"c81","v":15.81,"i":3.5},{"c":"c81","v":16.44,"i":3.0},{"c":"c81","v":17.83,"i":2.0},{"c":"c81","v":18.63,"i":1.5},{"c":"c81","v":19.06,"i":1.2},{"c":"c81","v":19.95,"i":0.797},
{"c":"c82","v":0.57,"i":4.92},{"c":"c82","v":4,"i":4.89},{"c":"c82","v":10,"i":4.81},{"c":"c82","v":11.54,"i":4.72},{"c":"c82","v":12.54,"i":4.6},{"c":"c82","v":13.54,"i":4.42},{"c":"c82","v":14.87,"i":4.0},{"c":"c82","v":15.83,"i":3.5},{"c":"c82","v":16.45,"i":3.0},{"c":"c82","v":17.84,"i":2.0},{"c":"c82","v":18.64,"i":1.5},{"c":"c82","v":19.08,"i":1.2},{"c":"c82","v":19.97,"i":0.799},
{"c":"c83","v":0.57,"i":4.945},{"c":"c83","v":4,"i":4.915},{"c":"c83","v":10,"i":4.835},{"c":"c83","v":11.47,"i":4.745},{"c":"c83","v":12.47,"i":4.625},{"c":"c83","v":13.47,"i":4.445},{"c":"c83","v":14.9,"i":4.0},{"c":"c83","v":15.85,"i":3.5},{"c":"c83","v":16.47,"i":3.0},{"c":"c83","v":17.85,"i":2.0},{"c":"c83","v":18.66,"i":1.5},{"c":"c83","v":19.1,"i":1.2},{"c":"c83","v":20.0,"i":0.8}
]},
"layer":[
{"transform":[{"filter":"datum.c <= 'c43'"}],
"mark":{"type":"line","strokeWidth":4,"interpolate":"monotone"},
"encoding":{
"x":{"field":"v","type":"quantitative","scale":{"domain":[0,20],"nice":false},
"axis":{"title":"Vpv [V]","values":[0,2,4,6,8,10,12,14,16,18,20],"format":"d","grid":true,"gridColor":"#e4e4e4","gridWidth":2,"domainColor":"#262626","domainWidth":2.5,"ticks":true,"tickSize":-22,"tickColor":"#262626","tickWidth":2.5,"labelFont":"Liberation Sans","labelFontWeight":"bold","labelFontSize":64,"labelColor":"#1a1a1a","labelPadding":51,"labelFlush":false,"labelOverlap":false,"titleFont":"Liberation Serif","titleFontWeight":"normal","titleFontSize":76,"titleColor":"#1a1a1a","titlePadding":6}},
"y":{"field":"i","type":"quantitative","scale":{"domain":[0,5],"nice":false},
"axis":{"title":"Ipv [A]","values":[0,1,2,3,4,5],"format":"d","grid":true,"gridColor":"#e4e4e4","gridWidth":2,"domainColor":"#262626","domainWidth":2.5,"ticks":true,"tickSize":-22,"tickColor":"#262626","tickWidth":2.5,"labelFont":"Liberation Sans","labelFontWeight":"bold","labelFontSize":64,"labelColor":"#1a1a1a","labelPadding":44,"labelOverlap":false,"titleFont":"Liberation Serif","titleFontWeight":"normal","titleFontSize":76,"titleColor":"#1a1a1a","titlePadding":30}},
"color":{"field":"c","type":"nominal","legend":null,"scale":{"range":["#0072BD","#D95319","#EDB120","#7E2F8E","#77AC30","#4DBEEE","#A2142F"]}}
}},
{"transform":[{"filter":"datum.c > 'c43'"}],
"mark":{"type":"line","strokeWidth":5.5,"interpolate":"monotone"},
"encoding":{
"x":{"field":"v","type":"quantitative","axis":null},
"y":{"field":"i","type":"quantitative","axis":null},
"color":{"field":"c","type":"nominal","legend":null}
}},
{"data":{"values":[{}]},
"mark":{"type":"text","font":"Lato","fontWeight":"bold","fontSize":59,"color":"#000000","align":"center","baseline":"middle"},
"encoding":{"x":{"datum":16.99,"type":"quantitative","axis":null},"y":{"datum":4.746,"type":"quantitative","axis":null},"text":{"value":"Sample size (M) = 205"}}},
{"data":{"values":[{}]},
"mark":{"type":"text","font":"Lato","fontWeight":"bold","fontSize":56,"color":"#000000","align":"center","baseline":"middle"},
"encoding":{
"x":{"datum":1.97,"type":"quantitative","axis":{"orient":"top","values":[0,2,4,6,8,10,12,14,16,18,20],"labels":false,"title":null,"grid":false,"domain":false,"ticks":true,"tickSize":-22,"tickColor":"#262626","tickWidth":2.5}},
"y":{"datum":0.462,"type":"quantitative","axis":{"orient":"right","values":[0,1,2,3,4,5],"labels":false,"title":null,"grid":false,"domain":false,"ticks":true,"tickSize":-22,"tickColor":"#262626","tickWidth":2.5}},
"text":{"value":"02/09/2021"}}}
]
}
